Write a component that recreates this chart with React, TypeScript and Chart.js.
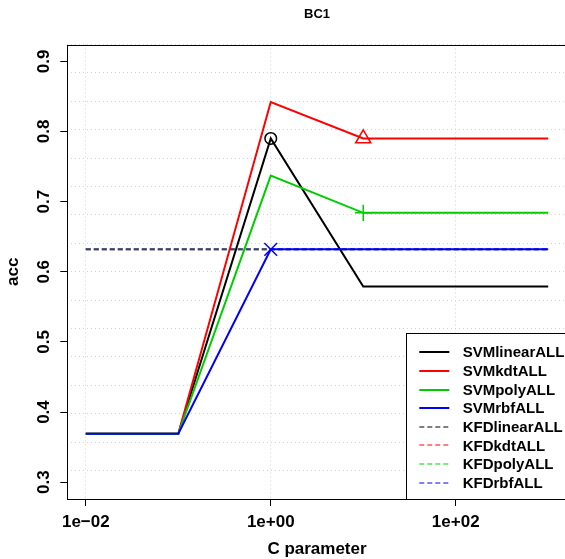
import React, { useEffect, useRef } from 'react';
import { Chart, registerables } from 'chart.js';

Chart.register(...registerables);

// ---- data ----
const cValues = [0.01, 0.1, 1, 10, 100, 1000];
const svmLinear = [0.369, 0.369, 0.790, 0.579, 0.579, 0.579];
const svmKdt = [0.369, 0.369, 0.842, 0.790, 0.790, 0.790];
const svmPoly = [0.369, 0.369, 0.737, 0.684, 0.684, 0.684];
const svmRbf = [0.369, 0.369, 0.632, 0.632, 0.632, 0.632];
const kfdLinear = [0.632, 0.632, 0.632, 0.632, 0.632, 0.632];
const kfdKdt = [0.632, 0.632, 0.632, 0.632, 0.632, 0.632];
const kfdPoly = [0.632, 0.632, 0.632, 0.632, 0.632, 0.632];
const kfdRbf = [0.632, 0.632, 0.632, 0.632, 0.632, 0.632];

const seriesLabels = [
  'SVMlinearALL', 'SVMkdtALL', 'SVMpolyALL', 'SVMrbfALL',
  'KFDlinearALL', 'KFDkdtALL', 'KFDpolyALL', 'KFDrbfALL',
];
const markerIndex = [2, 3, 3, 2];

const xTickValues = [0.01, 1, 100];
const xTickLabels = ['1e\u221202', '1e+00', '1e+02'];
const yTickValues = [0.3, 0.4, 0.5, 0.6, 0.7, 0.8, 0.9];
const yTickLabels = ['0.3', '0.4', '0.5', '0.6', '0.7', '0.8', '0.9'];

const titleText = 'BC1';
const xTitle = 'C parameter';
const yTitle = 'acc';

// ---- styles ----
const FONT = '"Liberation Sans", Arial, Helvetica, sans-serif';
const solidColors = ['#000000', '#FF0000', '#00CD00', '#0000FF'];
const dashColors = ['rgba(0,0,0,0.5)', 'rgba(255,0,0,0.5)', 'rgba(0,205,0,0.5)', 'rgba(0,0,255,0.5)'];
const markerStyles = ['circle', 'triangle', 'cross', 'crossRot'];
const markerRadius = [5.8, 8.7, 8.2, 9];

const CANVAS_W = 580;
const CANVAS_H = 559;

const toPoints = (ys: number[]) => cValues.map((x, i) => ({ x, y: ys[i] }));

const overlayPlugin = {
  id: 'rOverlay',
  afterDraw(chart: any) {
    const ctx = chart.ctx as CanvasRenderingContext2D;
    const area = chart.chartArea;
    const xs = chart.scales.x;
    const ys = chart.scales.y;
    ctx.save();

    // plot box
    ctx.strokeStyle = '#000';
    ctx.lineWidth = 1;
    ctx.setLineDash([]);
    const L = Math.round(area.left) + 0.5;
    const T = Math.round(area.top) + 0.5;
    const R = Math.round(area.right) + 0.5;
    const B = Math.round(area.bottom) + 0.5;
    ctx.strokeRect(L, T, R - L, B - T);

    // legend
    const lgLeft = 406.5;
    const lgTop = 333.5;
    ctx.fillStyle = '#fff';
    ctx.fillRect(lgLeft, lgTop, CANVAS_W - lgLeft + 5, B - lgTop);
    ctx.strokeStyle = '#000';
    ctx.strokeRect(lgLeft, lgTop, CANVAS_W - lgLeft + 5, B - lgTop);
    const ds = chart.data.datasets;
    ctx.font = `bold 15px ${FONT}`;
    ctx.textAlign = 'left';
    ctx.textBaseline = 'middle';
    for (let i = 0; i < ds.length; i++) {
      const y = 352.3 + i * 18.63;
      const d = ds[i];
      ctx.strokeStyle = d.borderColor;
      ctx.lineWidth = d.borderWidth;
      ctx.setLineDash(d.borderDash || []);
      ctx.beginPath();
      ctx.moveTo(419.3, Math.round(y));
      ctx.lineTo(449.3, Math.round(y));
      ctx.stroke();
      ctx.setLineDash([]);
      ctx.fillStyle = '#000';
      ctx.fillText(d.label, 462.7, y + 1);
    }

    // title
    const cx = (area.left + area.right) / 2;
    ctx.fillStyle = '#000';
    ctx.textAlign = 'center';
    ctx.textBaseline = 'alphabetic';
    ctx.font = `bold 13px ${FONT}`;
    ctx.fillText(titleText, cx, 18.3);

    // x tick labels
    ctx.font = `bold 17px ${FONT}`;
    xTickValues.forEach((v, i) => {
      ctx.fillText(xTickLabels[i], xs.getPixelForValue(v), 526.5);
    });
    // x title
    ctx.fillText(xTitle, cx, 554.3);

    // y tick labels (rotated)
    yTickValues.forEach((v, i) => {
      ctx.save();
      ctx.translate(48.5, ys.getPixelForValue(v));
      ctx.rotate(-Math.PI / 2);
      ctx.fillText(yTickLabels[i], 0, 0);
      ctx.restore();
    });
    // y title
    ctx.save();
    ctx.translate(18.3, (area.top + area.bottom) / 2);
    ctx.rotate(-Math.PI / 2);
    ctx.fillText(yTitle, 0, 0);
    ctx.restore();

    ctx.restore();
  },
};

export default function App() {
  const canvasRef = useRef<HTMLCanvasElement | null>(null);

  useEffect(() => {
    document.body.style.margin = '0';
    const canvas = canvasRef.current;
    if (!canvas) return;
    const svm = [svmLinear, svmKdt, svmPoly, svmRbf];
    const kfd = [kfdLinear, kfdKdt, kfdPoly, kfdRbf];
    const datasets: any[] = [];
    svm.forEach((vals, i) => {
      datasets.push({
        label: seriesLabels[i],
        data: toPoints(vals),
        borderColor: solidColors[i],
        backgroundColor: solidColors[i],
        borderWidth: 2,
        fill: false,
        tension: 0,
        pointStyle: markerStyles[i],
        pointRadius: cValues.map((_, k) => (k === markerIndex[i] ? markerRadius[i] : 0)),
        pointBorderColor: solidColors[i],
        pointBackgroundColor: 'rgba(0,0,0,0)',
        pointBorderWidth: 1.5,
        order: 3 - i,
      });
    });
    kfd.forEach((vals, i) => {
      datasets.push({
        label: seriesLabels[4 + i],
        data: toPoints(vals),
        borderColor: dashColors[i],
        backgroundColor: dashColors[i],
        borderWidth: 2,
        borderDash: [5, 3],
        fill: false,
        tension: 0,
        pointRadius: 0,
        order: 7 - i,
      });
    });

    const chart = new Chart(canvas, {
      type: 'line',
      data: { datasets },
      options: {
        animation: false,
        responsive: false,
        devicePixelRatio: 1,
        layout: { padding: { top: 44.5, right: CANVAS_W - 566.7, left: 0, bottom: 0 } },
        plugins: {
          legend: { display: false },
          tooltip: { enabled: false },
          title: { display: false },
        },
        scales: {
          x: {
            type: 'logarithmic',
            position: 'bottom',
            min: Math.pow(10, -2.2),
            max: Math.pow(10, 3.2),
            afterBuildTicks: (s: any) => {
              s.ticks = xTickValues.map((v) => ({ value: v }));
            },
            afterFit: (s: any) => {
              s.height = CANVAS_H - 499;
            },
            ticks: { display: false },
            grid: {
              color: '#d3d3d3',
              lineWidth: 1,
              drawTicks: true,
              tickLength: 7,
              tickColor: '#000',
              tickWidth: 1,
              tickBorderDash: [],
            },
            border: { display: false, dash: [1, 3] },
          },
          y: {
            type: 'linear',
            position: 'left',
            min: 0.276,
            max: 0.924,
            afterBuildTicks: (s: any) => {
              s.ticks = yTickValues.map((v) => ({ value: v }));
            },
            afterFit: (s: any) => {
              s.width = 67.3;
            },
            ticks: { display: false },
            grid: {
              drawOnChartArea: false,
              drawTicks: true,
              tickLength: 7,
              tickColor: '#000',
              tickWidth: 1,
            },
            border: { display: false },
          },
          yg: {
            type: 'linear',
            position: 'left',
            min: 0,
            max: 16,
            ticks: { display: false, stepSize: 1 },
            afterFit: (s: any) => {
              s.width = 0;
            },
            grid: { color: '#d3d3d3', lineWidth: 1, drawTicks: false },
            border: { display: false, dash: [1, 3] },
          },
        },
      } as any,
      plugins: [overlayPlugin],
    });
    return () => chart.destroy();
  }, []);

  return (
    <div
      style={{
        position: 'fixed',
        left: 0,
        top: 0,
        width: 565,
        height: 559,
        overflow: 'hidden',
        background: '#fff',
      }}
    >
      <canvas ref={canvasRef} width={CANVAS_W} height={CANVAS_H} style={{ display: 'block' }} />
    </div>
  );
}
